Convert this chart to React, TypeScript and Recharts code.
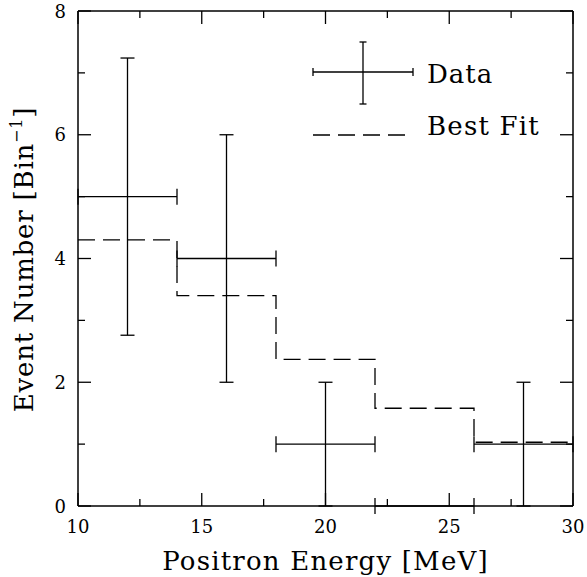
import React from 'react';
import { ComposedChart, Line, Scatter, ErrorBar, XAxis, YAxis, Legend } from 'recharts';

// ---- data ----
const dataX = [12, 16, 20, 24, 28];
const dataY = [5, 4, 1, 0, 1];
const dataXErr = [2, 2, 2, 2, 2];
const dataYErr = [2.24, 2, 1, 0, 1];

const fitEdges = [10, 14, 18, 22, 26, 30];
const fitValues = [4.3, 3.4, 2.37, 1.58, 1.03, 1.03];

const xMajor = [10, 15, 20, 25, 30];
const xMinor = [12.5, 17.5, 22.5, 27.5];
const yMajor = [0, 2, 4, 6, 8];
const yMinor = [1, 3, 5, 7];

const points = dataX.map((x, i) => ({ x, y: dataY[i], ex: dataXErr[i], ey: dataYErr[i] }));
const fit = fitEdges.map((x, i) => ({ x, y: fitValues[i] }));

const FONT = '"DejaVu Serif", serif';
const INK = '#000';

const xTicks = [...xMajor, ...xMinor].sort((a, b) => a - b);
const yTicks = [...yMajor, ...yMinor].sort((a, b) => a - b);

const makeTick = (orient: 'bottom' | 'top' | 'left' | 'right') => (props: any) => {
  const { x, y, payload } = props;
  const v = payload.value;
  const major = orient === 'bottom' || orient === 'top' ? xMajor.includes(v) : yMajor.includes(v);
  const len = major ? 13 : 7;
  let x2 = x, y2 = y;
  if (orient === 'bottom') y2 = y - len;
  if (orient === 'top') y2 = y + len;
  if (orient === 'left') x2 = x + len;
  if (orient === 'right') x2 = x - len;
  return (
    <g>
      <line x1={x} y1={y} x2={x2} y2={y2} stroke={INK} strokeWidth={1.3} />
      {major && orient === 'bottom' && (
        <text x={x} y={y + 26.5} textAnchor="middle" fontSize={18} fontFamily={FONT} fill={INK}>
          {v}
        </text>
      )}
      {major && orient === 'left' && (
        <text x={x - 12} y={y + 6.5} textAnchor="end" fontSize={18} fontFamily={FONT} fill={INK}>
          {v}
        </text>
      )}
    </g>
  );
};

const XTitle = (props: any) => {
  const { viewBox } = props;
  return (
    <text
      x={viewBox.x + viewBox.width / 2}
      y={viewBox.y + 64}
      textAnchor="middle"
      fontSize={26}
      letterSpacing={1.2}
      fontFamily={FONT}
      fill={INK}
    >
      Positron Energy [MeV]
    </text>
  );
};

const YTitle = (props: any) => {
  const { viewBox } = props;
  const cx = 33;
  const cy = viewBox.y + viewBox.height / 2 + 1;
  return (
    <text
      x={cx}
      y={cy}
      transform={`rotate(-90, ${cx}, ${cy})`}
      textAnchor="middle"
      fontSize={26}
      letterSpacing={0.8}
      fontFamily={FONT}
      fill={INK}
    >
      Event Number [Bin
      <tspan fontSize={16} dy={-11}>−1</tspan>
      <tspan dy={11}>]</tspan>
    </text>
  );
};

const LegendBox = () => (
  <svg width={270} height={120} style={{ display: 'block', overflow: 'visible' }}>
    {/* Data cross */}
    <line x1={13} y1={42} x2={113} y2={42} stroke={INK} strokeWidth={1.3} />
    <line x1={13} y1={38} x2={13} y2={46} stroke={INK} strokeWidth={1.3} />
    <line x1={113} y1={38} x2={113} y2={46} stroke={INK} strokeWidth={1.3} />
    <line x1={63} y1={12} x2={63} y2={74} stroke={INK} strokeWidth={1.3} />
    <line x1={59.5} y1={12} x2={66.5} y2={12} stroke={INK} strokeWidth={1.3} />
    <line x1={59.5} y1={74} x2={66.5} y2={74} stroke={INK} strokeWidth={1.3} />
    <text x={127} y={53} fontSize={26} letterSpacing={1} fontFamily={FONT} fill={INK}>Data</text>
    {/* Best fit */}
    <line x1={13} y1={105} x2={113} y2={105} stroke={INK} strokeWidth={1.3} strokeDasharray="17 8" />
    <text x={127} y={105} fontSize={26} letterSpacing={1.2} fontFamily={FONT} fill={INK}>Best Fit</text>
  </svg>
);

export default function App() {
  return (
    <div style={{ position: 'absolute', left: 0, top: 0, width: 587, height: 577, background: '#fff' }}>
      <ComposedChart width={587} height={577} margin={{ top: 10, right: 13, left: 18, bottom: 0 }}>
        <XAxis
          xAxisId="b"
          dataKey="x"
          type="number"
          domain={[10, 30]}
          ticks={xTicks}
          interval={0}
          allowDataOverflow
          height={71}
          tickSize={0}
          tickMargin={0}
          tickLine={false}
          axisLine={{ stroke: INK, strokeWidth: 1.5 }}
          tick={makeTick('bottom')}
          label={<XTitle />}
        />
        <XAxis
          xAxisId="t"
          orientation="top"
          dataKey="x"
          type="number"
          domain={[10, 30]}
          ticks={xTicks}
          interval={0}
          allowDataOverflow
          height={1}
          tickSize={0}
          tickMargin={0}
          tickLine={false}
          axisLine={{ stroke: INK, strokeWidth: 1.5 }}
          tick={makeTick('top')}
        />
        <YAxis
          yAxisId="l"
          type="number"
          domain={[0, 8]}
          ticks={yTicks}
          interval={0}
          allowDataOverflow
          width={60}
          tickSize={0}
          tickMargin={0}
          tickLine={false}
          axisLine={{ stroke: INK, strokeWidth: 1.5 }}
          tick={makeTick('left')}
          label={<YTitle />}
        />
        <YAxis
          yAxisId="r"
          orientation="right"
          type="number"
          domain={[0, 8]}
          ticks={yTicks}
          interval={0}
          allowDataOverflow
          width={1}
          tickSize={0}
          tickMargin={0}
          tickLine={false}
          axisLine={{ stroke: INK, strokeWidth: 1.5 }}
          tick={makeTick('right')}
        />
        <Line
          xAxisId="b"
          yAxisId="l"
          data={fit}
          dataKey="y"
          type="stepAfter"
          stroke={INK}
          strokeWidth={1.3}
          strokeDasharray="17 8"
          dot={false}
          activeDot={false}
          isAnimationActive={false}
          legendType="none"
        />
        <Scatter
          xAxisId="b"
          yAxisId="l"
          data={points}
          dataKey="y"
          shape={() => <g />}
          isAnimationActive={false}
          legendType="none"
        >
          <ErrorBar dataKey="ex" direction="x" width={8} stroke={INK} strokeWidth={1.3} isAnimationActive={false} />
          <ErrorBar dataKey="ey" direction="y" width={7} stroke={INK} strokeWidth={1.3} isAnimationActive={false} />
        </Scatter>
        <Legend
          layout="horizontal"
          align="center"
          verticalAlign="middle"
          content={<LegendBox />}
          wrapperStyle={{ position: 'absolute', left: 300, top: 30, width: 270, height: 120 }}
        />
      </ComposedChart>
    </div>
  );
}
